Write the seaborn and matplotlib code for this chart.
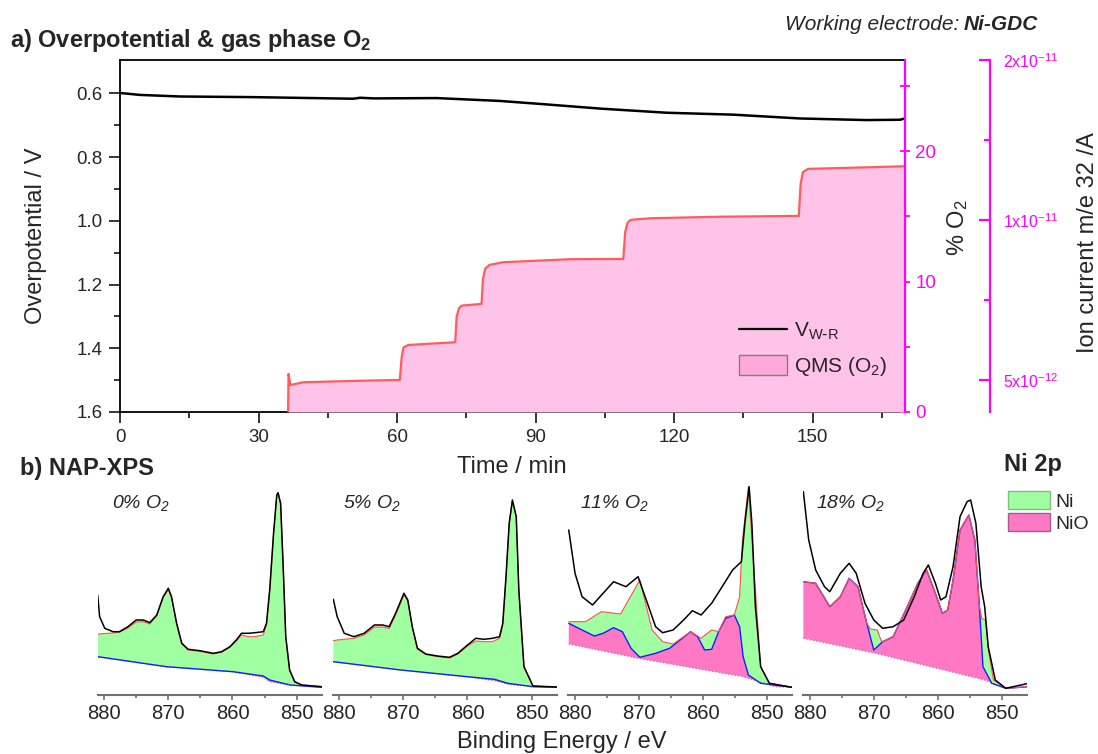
import matplotlib
matplotlib.use("Agg")
import matplotlib.pyplot as plt
import seaborn as sns
from matplotlib.patches import Patch
from matplotlib.lines import Line2D

# ---------------- data: panel a ----------------
time_v = [0, 4.3, 13, 28.8, 50.5, 52, 55, 68.6, 82.3, 91.6, 104, 118.4, 132.8, 147.3, 161.7, 168.9, 170]
volt = [0.599, 0.605, 0.610, 0.612, 0.617, 0.614, 0.616, 0.615, 0.624, 0.634, 0.648, 0.661, 0.667,
        0.679, 0.684, 0.683, 0.679]

o2_time = [36.4, 36.5, 36.9, 39.7, 50.0, 60.6, 61.0, 61.4, 62.4, 72.6, 72.9, 73.4, 74.0, 78.3, 78.6,
           79.1, 80.0, 83.0, 97.5, 109.0, 109.4, 109.9, 110.6, 114.8, 130.0, 147.0, 147.4, 147.9,
           149.0, 160.0, 170.0]
o2_pct = [0, 2.92, 2.07, 2.28, 2.38, 2.46, 4.2, 4.95, 5.14, 5.35, 7.3, 7.95, 8.16, 8.29, 10.2,
          11.0, 11.28, 11.49, 11.72, 11.74, 13.8, 14.5, 14.74, 14.86, 14.98, 15.04, 17.5, 18.4,
          18.65, 18.75, 18.85]

time_ticks = [0, 30, 60, 90, 120, 150]
volt_ticks = [0.6, 0.8, 1.0, 1.2, 1.4, 1.6]
o2_ticks = [0, 10, 20]
ion_ticks = [5e-12, 1e-11, 2e-11]
ion_labels = ["5x10$^{-12}$", "1x10$^{-11}$", "2x10$^{-11}$"]

# ---------------- data: panel b (Ni 2p spectra) ----------------
# 0 % O2
p1_ev = [881.0, 880.7, 879.9, 878.6, 877.6, 876.3, 875.0, 873.9, 872.9, 871.8, 870.8, 870.0, 869.5,
         868.7, 867.9, 866.9, 865.1, 863.0, 861.7, 860.4, 859.4, 858.6, 857.5, 856.5, 855.2, 854.7,
         854.2, 853.6, 853.1, 852.9, 852.5, 852.1, 851.7, 851.1, 850.3, 849.2, 846.1]
p1_raw = [100, 78.3, 66.7, 63.3, 63.3, 68.3, 75, 75, 72.3, 80, 98.3, 106.7, 98.3, 71.7, 51.7, 45.7,
          44.3, 41.7, 43.3, 48.3, 55, 61.7, 61.7, 62.3, 63.3, 71.7, 105, 161.7, 200, 202.3, 191.7,
          128.3, 58.3, 25, 13.3, 10, 8.3]
p1_fit = [60.7, 61, 61.5, 62, 63, 67, 73, 73.3, 71, 79, 97.5, 105.5, 97.5, 71, 51, 45, 43.7, 41,
          42.7, 47.7, 54, 60, 58.3, 58.3, 60, 70, 104, 161, 199.5, 202, 191, 128, 58, 25, 13, 10, 8.3]
p1_bg_ev = [881.0, 870.3, 859.9, 855.2, 854.2, 851.0, 846.1]
p1_bg = [38.3, 28.3, 23.3, 19.0, 15.0, 10.0, 7.7]
p1_base = [38.3, 28.3, 23.0, 17.7, 13.3, 9.7, 7.7]

# 5 % O2
p2_ev = [880.9, 880.3, 879.2, 877.7, 876.1, 874.5, 873.2, 872.2, 871.2, 869.9, 869.3, 868.6, 867.8,
         866.5, 864.7, 862.8, 861.5, 860.0, 858.7, 857.4, 856.1, 855.0, 854.5, 854.0, 853.5, 853.0,
         852.4, 852.0, 851.2, 849.8, 846.1]
p2_raw = [95.7, 78.3, 61.7, 58.3, 61.7, 70, 70, 68.3, 81.7, 101.7, 95, 68.3, 46.7, 41, 39, 37.7,
          41.7, 50, 56.7, 55.7, 56.7, 58.3, 71.7, 118.3, 171.7, 195, 178.3, 105, 28.3, 9, 8]
p2_fit = [54.3, 55, 55.7, 56.7, 60, 68, 68, 66.5, 80, 100, 94, 67.5, 46, 40.5, 38.5, 37, 41, 49,
          54, 53.3, 53.3, 56.7, 70.5, 117.5, 171, 194.5, 178, 104.5, 28, 9, 8]
p2_bg_ev = [880.9, 870.4, 860.0, 855.8, 853.7, 849.8, 846.1]
p2_bg = [33.3, 25.0, 18.3, 15.7, 11.7, 8.3, 7.7]
p2_base = [33.3, 25.0, 18.0, 14.3, 10.7, 8.3, 7.7]

# 11 % O2
p3_ev = [880.93, 879.95, 878.85, 877.22, 875.58, 873.94, 872.03, 870.13, 869.03, 867.40, 866.31,
         864.67, 863.03, 861.67, 860.31, 858.67, 857.03, 855.40, 854.03, 853.49, 852.83, 852.40,
         851.85, 851.03, 849.67, 846.12]
p3_raw = [165, 121.7, 98.3, 90, 101.7, 113.3, 108.3, 118.3, 98.3, 68.3, 62.3, 65, 75, 84.3, 80,
          91.7, 108.3, 125, 133.3, 171.7, 208.3, 171.7, 88.3, 28.3, 11.7, 7.7]
p3_fit_ev = [880.93, 878.31, 875.85, 872.85, 869.85, 867.94, 866.31, 864.67, 861.94, 860.31, 858.67,
             857.58, 856.49, 855.13, 854.31, 853.87, 852.94, 852.12, 851.03, 849.67, 846.12]
p3_fit = [73.3, 73.3, 83.3, 81, 115, 65, 53.3, 51, 63.3, 56.7, 65, 63.3, 78.3, 80, 98.3, 155,
          208.3, 130, 28.3, 11.7, 7.7]
p3_nio_ev = [880.93, 878.85, 876.94, 875.58, 873.94, 872.58, 871.22, 869.85, 867.40, 865.22, 863.58,
             861.94, 860.85, 859.76, 858.67, 857.58, 856.49, 855.13, 854.31, 853.76, 852.94, 851.03,
             846.12]
p3_nio = [71.7, 65, 59, 61.7, 67.3, 63.3, 46.7, 37.7, 41.7, 46.7, 55, 63.3, 58.3, 45, 45.7, 63.3,
          76.7, 80, 68.3, 38.3, 20, 11.7, 7.7]
p3_base_ev = [880.93, 870.13, 853.76, 848.76, 846.12]
p3_base = [51, 36.7, 18.3, 8.3, 7.7]

# 18 % O2
p4_ev = [880.99, 880.16, 879.07, 877.70, 876.87, 875.23, 873.86, 872.76, 871.39, 870.02, 868.64,
         867.00, 865.35, 863.71, 862.34, 861.51, 860.42, 859.59, 858.77, 857.67, 856.58, 855.48,
         854.93, 854.11, 853.29, 852.74, 852.19, 851.09, 849.45, 845.88]
p4_raw = [203.3, 155, 125, 108.3, 103.3, 121.7, 131.7, 121.7, 91.7, 75, 66.7, 68.3, 75, 98.3,
          121.7, 130, 111.7, 95, 98.3, 128.3, 178.3, 193.3, 195, 171.7, 108.3, 88.3, 48.3, 15, 6.7,
          11.7]
p4_fit_ev = [880.99, 879.07, 876.87, 875.23, 873.86, 872.48, 871.11, 870.57, 869.47, 868.92, 868.64,
             867.00, 864.81, 863.16, 861.79, 860.42, 859.32, 858.50, 857.67, 856.58, 855.21, 854.27,
             853.56, 853.18, 852.63, 852.08, 851.37, 849.45, 845.88]
p4_fit = [113.3, 111.7, 88.3, 98.3, 116.7, 108.3, 72, 66, 65, 55, 53.3, 58.3, 88.3, 111.7, 125,
          101.7, 81.7, 85, 115, 165, 180, 155, 88.3, 76.7, 75, 41.7, 15, 6.7, 8.3]
p4_nio_ev = [880.99, 879.07, 876.87, 875.23, 873.86, 872.48, 871.11, 870.02, 868.64, 867.00, 864.81,
             863.16, 861.79, 860.42, 859.32, 858.50, 857.67, 856.58, 855.21, 854.27, 853.56, 853.01,
             851.64, 849.45, 845.88]
p4_nio = [113.3, 111.7, 88.3, 98.3, 116.7, 108.3, 71.7, 45, 53.3, 58.3, 88.3, 111.7, 125, 101.7,
          81.7, 85, 115, 165, 180, 155, 88.3, 28.3, 11.7, 6.7, 8.3]
p4_base_ev = [880.99, 869.74, 852.74, 849.45, 845.88]
p4_base = [56.7, 41.7, 15, 6.7, 8.3]

panel_titles = ["0% O$_2$", "5% O$_2$", "11% O$_2$", "18% O$_2$"]
be_ticks = [880, 870, 860, 850]

# ---------------- styling ----------------
sns.set_style("ticks")
plt.rcParams["font.family"] = ["Liberation Sans", "DejaVu Sans"]
plt.rcParams["mathtext.default"] = "regular"

MAG = "#FF00FF"
O2_FILL = "#FFC2E8"
O2_LINE = "#FF5C5C"
NI_GREEN = "#A0FFA0"
NIO_PINK = "#FF78C3"

W, H = 1098, 754
def fx(px):
    return px / W
def fy(py):
    return 1 - py / H

fig = plt.figure(figsize=(W / 100, H / 100), dpi=100)

# ---------------- panel a ----------------
ax = fig.add_axes([fx(120), fy(412), (905 - 120) / W, (412 - 60) / H])
sns.lineplot(x=time_v, y=volt, ax=ax, color="black", lw=1.8)
ax.set_xlim(0, 170)
ax.set_ylim(1.6, 0.4955)
ax.set_xticks(time_ticks)
ax.set_xticks([15, 45, 75, 105, 135, 165], minor=True)
ax.set_yticks(volt_ticks, [f"{v:.1f}" for v in volt_ticks])
ax.set_yticks([0.7, 0.9, 1.1, 1.3, 1.5], minor=True)
ax.tick_params(axis="both", which="major", labelsize=13.5, length=8, width=1.3, direction="out", pad=4.5)
ax.tick_params(axis="both", which="minor", length=4, width=1.3, direction="out")
ax.set_xlabel("")
ax.set_ylabel("")
for s in ["left", "bottom", "top"]:
    ax.spines[s].set_linewidth(1.3)
    ax.spines[s].set_color("black")
ax.spines["right"].set_visible(False)

ax2 = ax.twinx()
ax2.fill_between(o2_time, o2_pct, 0, color=O2_FILL, lw=0)
sns.lineplot(x=o2_time, y=o2_pct, ax=ax2, color=O2_LINE, lw=1.6)
ax2.set_ylim(0, 27.0)
ax2.set_yticks(o2_ticks)
ax2.set_yticks([5, 15, 25], minor=True)
ax2.tick_params(axis="y", which="both", colors=MAG, labelcolor=MAG, labelsize=13.5,
                direction="inout", length=7, width=1.3, pad=4)
ax2.set_ylabel("")
for s in ["left", "bottom", "top"]:
    ax2.spines[s].set_visible(False)
ax2.spines["right"].set_color(MAG)
ax2.spines["right"].set_linewidth(1.6)

ax3 = ax.twinx()
ax3.set_yscale("log")
ax3.set_ylim(4.353e-12, 2e-11)
ax3.spines["right"].set_position(("axes", (990 - 120) / 785))
for s in ["left", "bottom", "top"]:
    ax3.spines[s].set_visible(False)
ax3.spines["right"].set_color(MAG)
ax3.spines["right"].set_linewidth(1.6)
ax3.set_yticks(ion_ticks, ion_labels)
ax3.set_yticks([7.07e-12, 1.414e-11], minor=True)
ax3.yaxis.set_minor_formatter(plt.NullFormatter())
ax3.tick_params(axis="y", which="major", colors=MAG, labelcolor=MAG, labelsize=11.5,
                direction="in", length=8, width=1.6, pad=9)
ax3.tick_params(axis="y", which="minor", colors=MAG, direction="in", length=4, width=1.6)

fig.text(fx(10), fy(40), "a) Overpotential & gas phase O$_2$", fontsize=17, weight="bold",
         ha="left", va="center")
t_ni = fig.text(fx(1038), fy(25), "Ni-GDC", fontsize=15, style="italic", weight="bold",
                ha="right", va="center")
fig.text(fx(36), fy(236), "Overpotential / V", fontsize=17, rotation=90, ha="center", va="center")
fig.text(fx(512), fy(467), "Time / min", fontsize=17, ha="center", va="center")
fig.text(fx(958), fy(228), "% O$_2$", fontsize=17, rotation=90, ha="center", va="center")
fig.text(fx(1088), fy(243), "Ion current m/e 32 /A", fontsize=17, rotation=90, ha="center",
         va="center")

fig.legend(
    handles=[Line2D([], [], color="black", lw=1.6),
             Patch(facecolor="#FFA8DC", edgecolor="#808080", lw=1)],
    labels=["V$_{W\\text{-}R}$", "QMS (O$_2$)"],
    loc="upper left", bbox_to_anchor=(fx(739), fy(320)), frameon=False, fontsize=15,
    handlelength=2.3, handleheight=1.1, handletextpad=0.35, labelspacing=0.6,
    borderpad=0, borderaxespad=0)

# ---------------- panel b ----------------
panels = [
    (p1_ev, p1_raw, p1_ev, p1_fit, p1_bg_ev, p1_bg, p1_bg_ev, p1_base),
    (p2_ev, p2_raw, p2_ev, p2_fit, p2_bg_ev, p2_bg, p2_bg_ev, p2_base),
    (p3_ev, p3_raw, p3_fit_ev, p3_fit, p3_nio_ev, p3_nio, p3_base_ev, p3_base),
    (p4_ev, p4_raw, p4_fit_ev, p4_fit, p4_nio_ev, p4_nio, p4_base_ev, p4_base),
]
lefts = [97.7, 332.7, 568.3, 803.3]
title_dx = [14, 10.6, 11.7, 12.4]
for i, (ev, raw, fev, fit, nev, nio, bev, base) in enumerate(panels):
    a = fig.add_axes([fx(lefts[i]), fy(695), 224 / W, 215 / H])
    a.fill(list(fev) + list(nev)[::-1], list(fit) + list(nio)[::-1], color=NI_GREEN, lw=0)
    a.fill(list(nev) + list(bev)[::-1], list(nio) + list(base)[::-1], color=NIO_PINK, lw=0)
    a.plot(bev, base, color="#C070B0", lw=0.9, ls=":")
    a.plot(nev, nio, color="#1020FF", lw=1.0)
    a.plot(fev, fit, color="#FF5050", lw=0.8)
    sns.lineplot(x=ev, y=raw, ax=a, color="black", lw=1.1, sort=False)
    a.set_xlim(881.0, 846.1)
    a.set_ylim(0, 215)
    a.set_xticks(be_ticks)
    a.set_xticks([875, 865, 855], minor=True)
    a.set_yticks([])
    a.set_xlabel("")
    a.set_ylabel("")
    for s in ["left", "right", "top"]:
        a.spines[s].set_visible(False)
    a.spines["bottom"].set_color("#707070")
    a.spines["bottom"].set_linewidth(1.5)
    a.tick_params(axis="x", which="major", labelsize=14.5, length=3.5, width=1.2,
                  color="#707070", pad=3)
    a.tick_params(axis="x", which="minor", length=2.5, width=1.2, color="#707070")
    a.patch.set_alpha(0)
    a.text(title_dx[i] / 224, (695 - 503) / 215, panel_titles[i], transform=a.transAxes,
           fontsize=14, style="italic", ha="left", va="center")

fig.text(fx(20), fy(469), "b) NAP-XPS", fontsize=17, weight="bold", ha="left", va="center")
fig.text(fx(1004), fy(465), "Ni 2p", fontsize=17, weight="bold", ha="left", va="center")
fig.text(fx(562), fy(742), "Binding Energy / eV", fontsize=17, ha="center", va="center")

fig.legend(
    handles=[Patch(facecolor=NI_GREEN, edgecolor="#7FBF7F", lw=1),
             Patch(facecolor=NIO_PINK, edgecolor="#A06090", lw=1)],
    labels=["Ni", "NiO"], loc="upper left", bbox_to_anchor=(fx(1008), fy(491)),
    frameon=False, fontsize=14, handlelength=2.15, handleheight=1.03, handletextpad=0.3,
    labelspacing=0.15, borderpad=0, borderaxespad=0)

fig.canvas.draw()
bb = t_ni.get_window_extent()
fig.text((bb.x0 - 4) / W, fy(25), "Working electrode:", fontsize=15, style="italic",
         ha="right", va="center")

fig.savefig("out.png", dpi=100)
